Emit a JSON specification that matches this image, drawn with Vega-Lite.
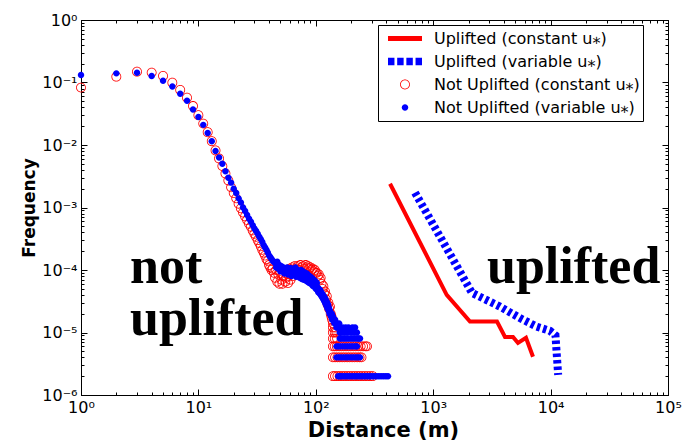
{
  "$schema": "https://vega.github.io/schema/vega-lite/v6.json",
  "width": 587,
  "height": 375,
  "autosize": "none",
  "padding": {"left": 81, "top": 20, "right": 17, "bottom": 45},
  "background": "white",
  "config": {
    "view": {"stroke": null},
    "axis": {"domainColor": "#000", "tickColor": "#000", "labelColor": "#000", "titleColor": "#000", "labelFont": "DejaVu Sans", "titleFont": "DejaVu Sans", "labelFontSize": 16, "grid": false, "domainWidth": 1, "tickWidth": 1, "labelFlush": false, "labelOverlap": false}
  },
  "datasets": {
    "nc": [
      {"x":1,"y":0.083},{"x":2,"y":0.124},{"x":3,"y":0.149},{"x":4,"y":0.144},{"x":5,"y":0.127},{"x":6,"y":0.099},{"x":7,"y":0.076},{"x":8,"y":0.057},{"x":9,"y":0.042},{"x":10,"y":0.030},{"x":11,"y":0.022},{"x":12,"y":0.016},{"x":13,"y":0.0115},{"x":14,"y":0.0082},{"x":15,"y":0.0061},{"x":16,"y":0.0046},{"x":17,"y":0.0035},{"x":18,"y":0.0027},{"x":19,"y":0.0021},{"x":20,"y":0.0017},{"x":21,"y":0.0014},{"x":22,"y":0.00115},{"x":23,"y":0.00097},{"x":24,"y":0.00083},{"x":25,"y":0.00072},{"x":26,"y":0.00063},{"x":27,"y":0.00055},{"x":28,"y":0.00049},{"x":29,"y":0.00043},{"x":30,"y":0.00038},{"x":31,"y":0.00034},{"x":32,"y":0.0003},{"x":33,"y":0.00027},{"x":34,"y":0.00024},{"x":35,"y":0.00021},{"x":36,"y":0.00019},{"x":37,"y":0.00017},{"x":38,"y":0.00015},{"x":39,"y":0.00014},{"x":40,"y":0.00012},{"x":41,"y":0.00011},{"x":42,"y":0.0001},{"x":43,"y":0.000105},{"x":44,"y":0.00009},{"x":45,"y":0.000075},{"x":46,"y":0.0001},{"x":47,"y":0.000065},{"x":48,"y":0.000085},{"x":49,"y":0.00006},{"x":50,"y":0.00009},{"x":51,"y":0.00007},{"x":52,"y":0.00006},{"x":53,"y":0.00008},{"x":54,"y":0.0001},{"x":55,"y":0.000065},{"x":56,"y":0.000075},{"x":57,"y":0.000095},{"x":58,"y":0.000062},{"x":59,"y":0.00008},{"x":60,"y":0.000105},{"x":61,"y":0.00007},{"x":62,"y":0.00009},{"x":63,"y":0.00011},{"x":64,"y":0.00008},{"x":65,"y":0.0001},{"x":66,"y":0.000115},{"x":67,"y":0.00009},{"x":68,"y":0.000105},{"x":70,"y":0.000115},{"x":72,"y":0.0001},{"x":74,"y":0.00012},{"x":76,"y":0.00011},{"x":78,"y":0.000115},{"x":80,"y":0.000105},{"x":82,"y":0.00012},{"x":84,"y":0.00011},{"x":86,"y":0.000115},{"x":88,"y":0.000105},{"x":90,"y":0.00011},{"x":92,"y":0.0001},{"x":94,"y":0.000105},{"x":96,"y":0.000095},{"x":98,"y":0.0001},{"x":100,"y":0.00009},{"x":102,"y":0.00009},{"x":104,"y":0.00008},{"x":106,"y":0.000085},{"x":108,"y":0.00007},{"x":110,"y":0.000075},{"x":112,"y":0.00006},{"x":114,"y":0.00005},{"x":116,"y":0.000055},{"x":118,"y":0.000042},{"x":120,"y":0.000045},{"x":122,"y":0.000034},{"x":124,"y":0.000038},{"x":126,"y":0.000028},{"x":128,"y":0.00003},{"x":130,"y":0.000024},{"x":132,"y":0.000026},{"x":134,"y":0.00002},{"x":136,"y":0.000018},{"x":138,"y":0.000016},{"x":140,"y":0.000014},
      {"x":140,"y":0.000012},{"x":146,"y":0.000012},{"x":140,"y":0.00001},{"x":145,"y":0.00001},{"x":150,"y":0.00001},{"x":140,"y":0.000008},{"x":145,"y":0.000008},{"x":152,"y":0.000008},
      {"x":140,"y":0.000006},{"x":145,"y":0.000006},{"x":151,"y":0.000006},{"x":158,"y":0.000006},{"x":165,"y":0.000006},{"x":173,"y":0.000006},{"x":181,"y":0.000006},{"x":190,"y":0.000006},{"x":199,"y":0.000006},{"x":209,"y":0.000006},{"x":219,"y":0.000006},{"x":230,"y":0.000006},{"x":241,"y":0.000006},{"x":253,"y":0.000006},{"x":265,"y":0.000006},{"x":273,"y":0.000006},
      {"x":140,"y":0.000004},{"x":146,"y":0.000004},{"x":153,"y":0.000004},{"x":160,"y":0.000004},{"x":168,"y":0.000004},{"x":176,"y":0.000004},{"x":185,"y":0.000004},{"x":194,"y":0.000004},{"x":204,"y":0.000004},{"x":214,"y":0.000004},{"x":225,"y":0.000004},{"x":236,"y":0.000004},{"x":245,"y":0.000004},
      {"x":140,"y":0.000002},{"x":146,"y":0.000002},{"x":153,"y":0.000002},{"x":160,"y":0.000002},{"x":168,"y":0.000002},{"x":176,"y":0.000002},{"x":185,"y":0.000002},{"x":194,"y":0.000002},{"x":204,"y":0.000002},{"x":214,"y":0.000002},{"x":225,"y":0.000002},{"x":236,"y":0.000002},{"x":248,"y":0.000002},{"x":261,"y":0.000002},{"x":275,"y":0.000002},{"x":290,"y":0.000002},{"x":305,"y":0.000002}
    ],
    "nv": [
      {"x":1,"y":0.132},{"x":2,"y":0.14},{"x":3,"y":0.143},{"x":4,"y":0.127},{"x":5,"y":0.107},{"x":6,"y":0.086},{"x":7,"y":0.066},{"x":8,"y":0.051},{"x":9,"y":0.037},{"x":10,"y":0.028},{"x":11,"y":0.021},{"x":12,"y":0.0155},{"x":13,"y":0.0115},{"x":14,"y":0.008},{"x":15,"y":0.0063},{"x":16,"y":0.005},{"x":17,"y":0.0038},{"x":18,"y":0.003},{"x":19,"y":0.0025},{"x":20,"y":0.002},{"x":21,"y":0.0017},{"x":22,"y":0.0014},{"x":23,"y":0.0012},{"x":24,"y":0.001},{"x":25,"y":0.00088},{"x":26,"y":0.00076},{"x":27,"y":0.00066},{"x":28,"y":0.00059},{"x":29,"y":0.00052},{"x":30,"y":0.00046},{"x":31,"y":0.00042},{"x":32,"y":0.00038},{"x":33,"y":0.00034},{"x":34,"y":0.00031},{"x":35,"y":0.00028},{"x":36,"y":0.00025},{"x":37,"y":0.00023},{"x":38,"y":0.00021},{"x":39,"y":0.00019},{"x":40,"y":0.00017},{"x":41,"y":0.00016},{"x":42,"y":0.00015},{"x":43,"y":0.00014},{"x":44,"y":0.000135},
      {"x":45,"y":0.00013},{"x":46,"y":0.00011},{"x":47,"y":0.000135},{"x":48,"y":0.000105},{"x":49,"y":0.00012},{"x":50,"y":0.000095},{"x":51,"y":0.000115},{"x":52,"y":0.0001},{"x":53,"y":0.00011},{"x":54,"y":0.000088},{"x":55,"y":0.000105},{"x":56,"y":0.000095},{"x":57,"y":0.00011},{"x":58,"y":0.000085},{"x":59,"y":0.0001},{"x":60,"y":0.00009},{"x":61,"y":0.000108},{"x":62,"y":0.00008},{"x":63,"y":0.000095},{"x":64,"y":0.000102},{"x":65,"y":0.000085},{"x":66,"y":0.000098},{"x":67,"y":0.00011},{"x":68,"y":0.000078},{"x":69,"y":0.00009},{"x":70,"y":0.0001},{"x":71,"y":0.000082},{"x":72,"y":0.000095},{"x":73,"y":0.000075},{"x":74,"y":0.000088},{"x":75,"y":0.0001},{"x":76,"y":0.000072},{"x":77,"y":0.000085},{"x":78,"y":0.000095},{"x":79,"y":0.00007},{"x":80,"y":0.00008},{"x":81,"y":0.00009},{"x":82,"y":0.000068},{"x":83,"y":0.000078},{"x":84,"y":0.000088},{"x":85,"y":0.000065},{"x":86,"y":0.000075},{"x":87,"y":0.000082},{"x":88,"y":0.000062},{"x":89,"y":0.00007},{"x":90,"y":0.000078},{"x":91,"y":0.00006},{"x":92,"y":0.000068},{"x":93,"y":0.000074},{"x":94,"y":0.000056},{"x":95,"y":0.000064},{"x":96,"y":0.00007},{"x":97,"y":0.000054},{"x":98,"y":0.00006},{"x":99,"y":0.000066},{"x":100,"y":0.00005},{"x":101,"y":0.000056},{"x":102,"y":0.000062},{"x":103,"y":0.000048},{"x":104,"y":0.000052},{"x":105,"y":0.000044},{"x":106,"y":0.00005},{"x":107,"y":0.000046},{"x":108,"y":0.000042},{"x":109,"y":0.000048},{"x":110,"y":0.00004},{"x":111,"y":0.000044},{"x":112,"y":0.000038},{"x":113,"y":0.000042},{"x":114,"y":0.000036},{"x":115,"y":0.00004},{"x":116,"y":0.000034},{"x":117,"y":0.000038},{"x":118,"y":0.000032},{"x":119,"y":0.000036},{"x":120,"y":0.00003},{"x":121,"y":0.000034},{"x":122,"y":0.000028},{"x":123,"y":0.000032},{"x":124,"y":0.000026},{"x":125,"y":0.00003},{"x":126,"y":0.000024},{"x":127,"y":0.000028},{"x":128,"y":0.000026},{"x":129,"y":0.000022},{"x":130,"y":0.000024},{"x":131,"y":0.00002},{"x":132,"y":0.000022},{"x":134,"y":0.00002},{"x":135,"y":0.000018},{"x":137,"y":0.00002},{"x":138,"y":0.000016},{"x":140,"y":0.000018},{"x":142,"y":0.000016},{"x":144,"y":0.000014},{"x":146,"y":0.000016},{"x":148,"y":0.000014},{"x":150,"y":0.000012},{"x":152,"y":0.000014},{"x":155,"y":0.000012},{"x":158,"y":0.000014},{"x":160,"y":0.00001},{"x":163,"y":0.000012},{"x":166,"y":0.00001},{"x":170,"y":0.000012},{"x":175,"y":0.00001},{"x":180,"y":0.000012},{"x":185,"y":0.00001},{"x":190,"y":0.000012},{"x":200,"y":0.00001},{"x":205,"y":0.000012},{"x":212,"y":0.00001},{"x":216,"y":0.000012},{"x":224,"y":0.00001},
      {"x":160,"y":0.000008},{"x":165,"y":0.000008},{"x":172,"y":0.000008},{"x":178,"y":0.000008},{"x":185,"y":0.000008},{"x":192,"y":0.000008},{"x":200,"y":0.000008},{"x":208,"y":0.000008},{"x":216,"y":0.000008},{"x":225,"y":0.000008},{"x":232,"y":0.000008},{"x":238,"y":0.000008},
      {"x":150,"y":0.000006},{"x":155,"y":0.000006},{"x":160,"y":0.000006},{"x":167,"y":0.000006},{"x":174,"y":0.000006},{"x":181,"y":0.000006},{"x":188,"y":0.000006},{"x":196,"y":0.000006},{"x":204,"y":0.000006},{"x":212,"y":0.000006},{"x":220,"y":0.000006},{"x":224,"y":0.000006},
      {"x":150,"y":0.000004},{"x":156,"y":0.000004},{"x":162,"y":0.000004},{"x":169,"y":0.000004},{"x":176,"y":0.000004},{"x":183,"y":0.000004},{"x":190,"y":0.000004},{"x":198,"y":0.000004},{"x":206,"y":0.000004},{"x":214,"y":0.000004},{"x":222,"y":0.000004},{"x":230,"y":0.000004},{"x":238,"y":0.000004},
      {"x":155,"y":0.000002},{"x":160,"y":0.000002},{"x":165,"y":0.000002},{"x":172,"y":0.000002},{"x":179,"y":0.000002},{"x":187,"y":0.000002},{"x":195,"y":0.000002},{"x":204,"y":0.000002},{"x":213,"y":0.000002},{"x":222,"y":0.000002},{"x":232,"y":0.000002},{"x":242,"y":0.000002},{"x":253,"y":0.000002},{"x":264,"y":0.000002},{"x":276,"y":0.000002},{"x":288,"y":0.000002},{"x":301,"y":0.000002},{"x":315,"y":0.000002},{"x":329,"y":0.000002},{"x":344,"y":0.000002},{"x":360,"y":0.000002},{"x":377,"y":0.000002},{"x":395,"y":0.000002},{"x":412,"y":0.000002}
    ],
    "uc": [
      {"x":429,"y":0.0024},{"x":1303,"y":0.00004},{"x":2057,"y":0.000015},{"x":3494,"y":0.000015},{"x":4090,"y":0.0000085},{"x":4785,"y":0.0000085},{"x":5275,"y":0.0000068},{"x":6170,"y":0.0000082},{"x":7080,"y":0.0000041}
    ],
    "uv": [
      {"x":700,"y":0.00173},{"x":2140,"y":0.000043},{"x":3700,"y":0.000026},{"x":5480,"y":0.000017},{"x":7620,"y":0.0000124},{"x":9890,"y":0.0000106},{"x":11000,"y":0.000009},{"x":11600,"y":0.0000021}
    ],
    "txt": [
      {"x":2.62,"y":0.000062,"t":"not"},{"x":2.62,"y":0.0000091,"t":"uplifted"},{"x":2870,"y":0.000062,"t":"uplifted"}
    ]
  },
  "layer": [
    {
      "data": {"name": "nc"},
      "mark": {"type": "point", "filled": true, "size": 1156, "opacity": 1, "strokeWidth": 0},
      "encoding": {
        "x": {"field": "x", "type": "quantitative", "scale": {"type": "log", "domain": [1, 100000], "nice": false},
          "axis": {"orient": "bottom", "values": [1, 10, 100, 1000, 10000, 100000], "tickSize": -6, "labelPadding": 10,
            "labelExpr": "'10' + (datum.value < 0.5 ? '⁻' : '') + substring('⁰¹²³⁴⁵⁶⁷⁸⁹', abs(round(log(datum.value)/LN10)), abs(round(log(datum.value)/LN10)) + 1)",
            "title": "Distance (m)", "titleFontSize": 21, "titleFontWeight": "bold", "titlePadding": 4, "titleX": 302, "titleAlign": "center"}},
        "y": {"field": "y", "type": "quantitative", "scale": {"type": "log", "domain": [0.000001, 1], "nice": false},
          "axis": {"orient": "left", "values": [0.000001, 0.00001, 0.0001, 0.001, 0.01, 0.1, 1], "tickSize": -6, "labelPadding": 10,
            "labelExpr": "'10' + (datum.value < 0.5 ? '⁻' : '') + substring('⁰¹²³⁴⁵⁶⁷⁸⁹', abs(round(log(datum.value)/LN10)), abs(round(log(datum.value)/LN10)) + 1)",
            "title": "Frequency", "titleFontSize": 17, "titleFontWeight": "bold", "titlePadding": 3}},
        "color": {"datum": "Not Uplifted (constant u⁎)", "type": "nominal",
          "scale": {"domain": ["Uplifted (constant u⁎)", "Uplifted (variable u⁎)", "Not Uplifted (constant u⁎)", "Not Uplifted (variable u⁎)"], "range": ["#ff0000", "#0000ff", "#ff0000", "#0000ff"]},
          "legend": {"orient": "none", "legendX": 297, "legendY": 5, "title": null, "padding": 3, "strokeColor": "#000", "fillColor": "#fff",
            "symbolSize": 1156, "symbolStrokeWidth": 0, "symbolOpacity": 1, "clipHeight": 21, "rowPadding": 2, "symbolOffset": 7, "labelOffset": 12,
            "labelFont": "DejaVu Sans", "labelFontSize": 16, "labelColor": "#000", "labelLimit": 400,
            "labelExpr": "datum.label + '\u00a0\u00a0\u00a0\u00a0'"}},
        "shape": {"datum": "Not Uplifted (constant u⁎)", "type": "nominal",
          "scale": {"domain": ["Uplifted (constant u⁎)", "Uplifted (variable u⁎)", "Not Uplifted (constant u⁎)", "Not Uplifted (variable u⁎)"],
            "range": [
              "M-1,-0.15L1,-0.15L1,0.15L-1,0.15Z",
              "M-1,-0.22L-0.62,-0.22L-0.62,0.22L-1,0.22Z M-0.46,-0.22L-0.08,-0.22L-0.08,0.22L-0.46,0.22Z M0.08,-0.22L0.46,-0.22L0.46,0.22L0.08,0.22Z M0.62,-0.22L1,-0.22L1,0.22L0.62,0.22Z",
              "M0.29,0A0.29,0.29 0 1,1 -0.29,0A0.29,0.29 0 1,1 0.29,0Z M0.245,0A0.245,0.245 0 1,0 -0.245,0A0.245,0.245 0 1,0 0.245,0Z",
              "M0.19,0A0.19,0.19 0 1,1 -0.19,0A0.19,0.19 0 1,1 0.19,0Z"
            ]},
          "legend": {"orient": "none", "legendX": 297, "legendY": 5, "title": null, "padding": 3, "strokeColor": "#000", "fillColor": "#fff",
            "symbolSize": 1156, "symbolStrokeWidth": 0, "symbolOpacity": 1, "clipHeight": 21, "rowPadding": 2, "symbolOffset": 7, "labelOffset": 12,
            "labelFont": "DejaVu Sans", "labelFontSize": 16, "labelColor": "#000", "labelLimit": 400,
            "labelExpr": "datum.label + '\u00a0\u00a0\u00a0\u00a0'"}}
      }
    },
    {
      "data": {"name": "nv"},
      "mark": {"type": "point", "filled": true, "size": 1156, "opacity": 1, "strokeWidth": 0},
      "encoding": {
        "x": {"field": "x", "type": "quantitative", "scale": {"type": "log", "domain": [1, 100000], "nice": false},
          "axis": {"orient": "top", "values": [1, 10, 100, 1000, 10000, 100000], "tickSize": -6, "labels": false, "title": null}},
        "y": {"field": "y", "type": "quantitative", "scale": {"type": "log", "domain": [0.000001, 1], "nice": false},
          "axis": {"orient": "right", "values": [0.000001, 0.00001, 0.0001, 0.001, 0.01, 0.1, 1], "tickSize": -6, "labels": false, "title": null}},
        "color": {"datum": "Not Uplifted (variable u⁎)", "type": "nominal", "legend": null},
        "shape": {"datum": "Not Uplifted (variable u⁎)", "type": "nominal", "legend": null}
      }
    },
    {
      "data": {"name": "uc"},
      "mark": {"type": "line", "strokeWidth": 4, "strokeJoin": "miter"},
      "encoding": {
        "x": {"field": "x", "type": "quantitative", "scale": {"type": "log", "domain": [1, 100000], "nice": false},
          "axis": {"orient": "bottom", "values": [2,3,4,5,6,7,8,9,20,30,40,50,60,70,80,90,200,300,400,500,600,700,800,900,2000,3000,4000,5000,6000,7000,8000,9000,20000,30000,40000,50000,60000,70000,80000,90000], "tickSize": -3, "labels": false, "title": null}},
        "y": {"field": "y", "type": "quantitative", "scale": {"type": "log", "domain": [0.000001, 1], "nice": false},
          "axis": {"orient": "left", "values": [2e-6,3e-6,4e-6,5e-6,6e-6,7e-6,8e-6,9e-6,2e-5,3e-5,4e-5,5e-5,6e-5,7e-5,8e-5,9e-5,2e-4,3e-4,4e-4,5e-4,6e-4,7e-4,8e-4,9e-4,0.002,0.003,0.004,0.005,0.006,0.007,0.008,0.009,0.02,0.03,0.04,0.05,0.06,0.07,0.08,0.09,0.2,0.3,0.4,0.5,0.6,0.7,0.8,0.9], "tickSize": -3, "labels": false, "title": null}},
        "color": {"datum": "Uplifted (constant u⁎)", "type": "nominal", "legend": null}
      }
    },
    {
      "data": {"name": "uv"},
      "mark": {"type": "line", "strokeWidth": 8, "strokeDash": [3.5, 3], "strokeCap": "butt"},
      "encoding": {
        "x": {"field": "x", "type": "quantitative", "scale": {"type": "log", "domain": [1, 100000], "nice": false},
          "axis": {"orient": "top", "values": [2,3,4,5,6,7,8,9,20,30,40,50,60,70,80,90,200,300,400,500,600,700,800,900,2000,3000,4000,5000,6000,7000,8000,9000,20000,30000,40000,50000,60000,70000,80000,90000], "tickSize": -3, "labels": false, "title": null}},
        "y": {"field": "y", "type": "quantitative", "scale": {"type": "log", "domain": [0.000001, 1], "nice": false},
          "axis": {"orient": "right", "values": [2e-6,3e-6,4e-6,5e-6,6e-6,7e-6,8e-6,9e-6,2e-5,3e-5,4e-5,5e-5,6e-5,7e-5,8e-5,9e-5,2e-4,3e-4,4e-4,5e-4,6e-4,7e-4,8e-4,9e-4,0.002,0.003,0.004,0.005,0.006,0.007,0.008,0.009,0.02,0.03,0.04,0.05,0.06,0.07,0.08,0.09,0.2,0.3,0.4,0.5,0.6,0.7,0.8,0.9], "tickSize": -3, "labels": false, "title": null}},
        "color": {"datum": "Uplifted (variable u⁎)", "type": "nominal", "legend": null}
      }
    },
    {
      "data": {"name": "txt"},
      "mark": {"type": "text", "font": "Liberation Serif", "fontWeight": "bold", "fontSize": 52, "align": "left", "baseline": "alphabetic", "color": "#000"},
      "encoding": {
        "x": {"field": "x", "type": "quantitative", "scale": {"type": "log", "domain": [1, 100000], "nice": false}, "axis": null},
        "y": {"field": "y", "type": "quantitative", "scale": {"type": "log", "domain": [0.000001, 1], "nice": false}, "axis": null},
        "text": {"field": "t"}
      }
    }
  ],
  "resolve": {"axis": {"x": "independent", "y": "independent"}}
}
